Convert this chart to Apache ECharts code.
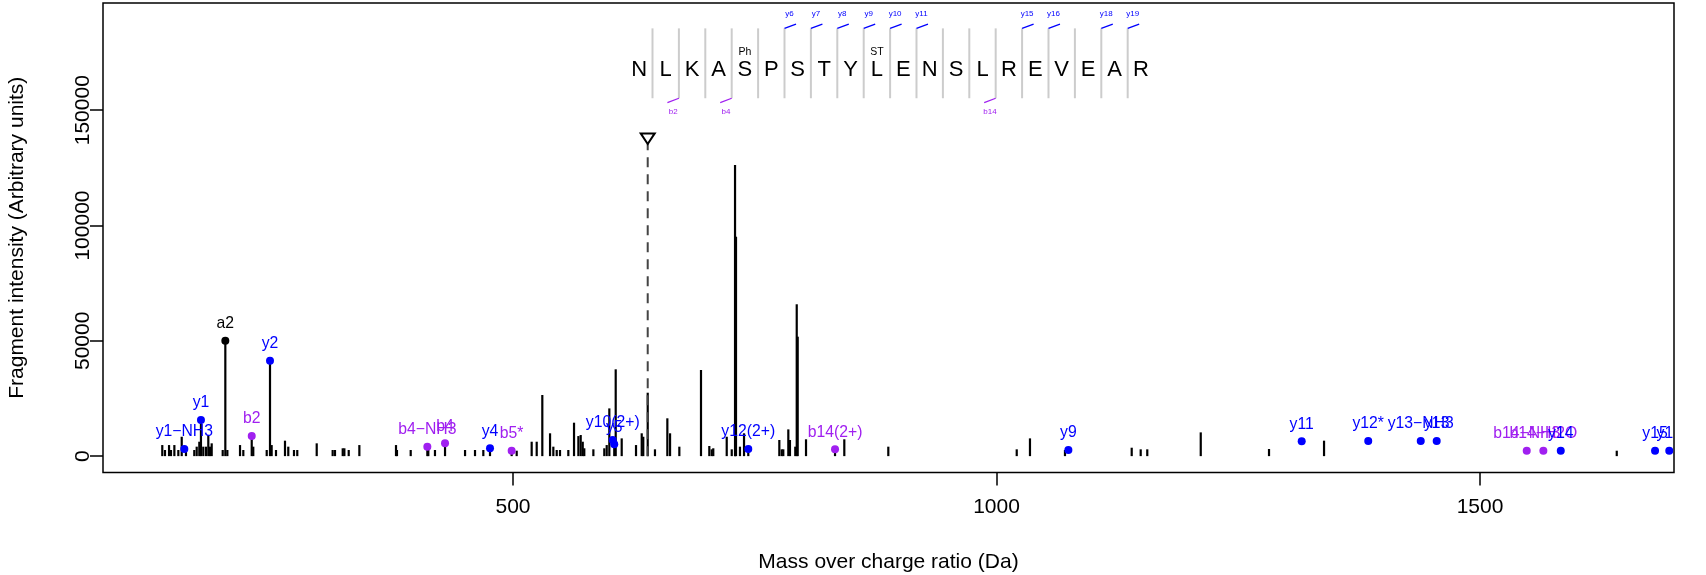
<!DOCTYPE html>
<html><head><meta charset="utf-8">
<script src="https://cdn.jsdelivr.net/npm/echarts@6/dist/echarts.min.js"></script>
<style>html,body{margin:0;padding:0;background:#fff}#c{width:1706px;height:575px}</style>
</head><body><div id="c"></div>
<script>
// ---------- data ----------
const peakMz = [137.3,140.1,144.3,146.3,149.8,153.9,157.4,161.8,170.4,172.9,175.6,177.3,179.7,182.5,184.9,186.7,188.4,199.8,202.5,204.6,217.7,221.1,229.8,231.4,245.3,248.7,250.4,254.9,264.2,267.6,273.5,276.9,297.0,313.5,315.9,323.9,325.6,330.1,341.1,379.0,380.0,394.2,411.4,412.4,419.3,429.7,450.4,460.7,469.3,476.2,498.6,503.8,519.3,524.5,530.3,538.3,541.7,545.2,548.6,557.2,563.1,567.6,570.0,572.1,573.7,583.1,594.4,596.9,599.6,604.7,606.2,612.4,627.2,633.1,634.7,639.3,646.8,659.6,662.4,672.0,694.4,703.0,705.5,707.1,721.0,726.2,729.6,730.6,734.7,738.9,743.3,775.4,777.9,779.5,784.7,786.4,791.9,793.4,794.4,803.0,833.0,842.6,888.1,1020.9,1034.6,1070.8,1139.8,1149.1,1155.9,1211.2,1281.8,1338.7,1641.4];
const peakIntensity = [4800,2650,4800,2650,4800,2650,8400,2650,2650,4100,6250,15650,4100,4100,9150,4100,5550,2650,50050,2650,4800,2650,8700,4100,2650,41400,4800,2650,6700,4100,2650,2650,5550,2650,2650,3400,3400,2650,4800,4800,2650,2650,4100,2650,2650,5550,2650,2650,2650,3400,2350,2350,6250,6250,26500,9900,4100,2650,2650,2650,14500,8700,9150,6250,3400,2950,3400,4800,20700,5100,37650,7700,4800,9900,8400,27500,2950,16400,9900,4100,37350,4400,2950,3400,8400,2950,126250,95150,4100,9900,3050,7000,2950,2950,11600,7000,4100,65850,51800,7300,2950,7300,4100,2950,7700,2650,3650,2950,2950,10300,3100,6700,2350];

const yIonLabels = ['y1\u2212NH3','y1','y2','y4','y10(2+)','y5','y12(2+)','y9','y11','y12*','y13\u2212NH3','y13','y14','y15','y16'];
const yIonMz = [160.1,177.3,248.7,476.2,603.1,604.7,743.3,1074.3,1315.6,1384.4,1438.7,1455.2,1583.5,1681.0,1695.7];
const yIonIntensity = [3100,15650,41400,3400,7000,5100,3050,2650,6400,6550,6550,6550,2350,2350,2350];

const bIonLabels = ['b2','b4\u2212NH3','b4','b5*','b14(2+)','b14\u2212NH3','b14\u2212H2O'];
const bIonMz = [229.8,411.4,429.7,498.6,833.0,1548.3,1565.5];
const bIonIntensity = [8700,4100,5550,2350,2950,2350,2350];

const otherIonLabels = ['a2'];
const otherIonMz = [202.5];
const otherIonIntensity = [50050];

const precursorMz = 639.3;
const precursorMarkerIntensity = 137650;

const sequence = ['N','L','K','A','S','P','S','T','Y','L','E','N','S','L','R','E','V','E','A','R'];
const modResidues = [5, 10];
const modLabels = ['Ph', 'ST'];
const yFragAfter = [6,7,8,9,10,11,15,16,18,19];
const bFragAfter = [2,4,14];

const xTicks = [500, 1000, 1500];
const yTicks = [0, 50000, 100000, 150000];

// ---------- layout (not data) ----------
const FONT = 'Liberation Sans, Arial, Helvetica, sans-serif';
const seqStartMz = 630.6, seqStepMz = 27.3;
const seqLetterLevel = 167450, seqLineTop = 185500, seqLineBottom = 155200, seqModLevel = 175000;

const chart = echarts.init(document.getElementById('c'), null, {renderer: 'canvas'});

function ionSeries(labels, mz, inten, color) {
  return {
    type: 'custom', z: 5, silent: true,
    data: mz.map((m, i) => [m, inten[i]]),
    encode: {x: 0, y: 1},
    renderItem: (params, api) => {
      const p = api.coord([api.value(0), api.value(1)]);
      const cs = params.coordSys;
      return {type: 'group',
        clipPath: {type: 'rect', shape: {x: cs.x, y: cs.y, width: cs.width, height: cs.height}},
        children: [
          {type: 'circle', shape: {cx: p[0], cy: p[1], r: 4}, style: {fill: color}},
          {type: 'text', x: p[0], y: p[1] - 17, style: {text: labels[params.dataIndex], fill: color,
            font: '15.75px ' + FONT, textAlign: 'center', textVerticalAlign: 'middle'}}
        ]};
    }
  };
}

const plain = v => String(v);

const option = {
  animation: false,
  grid: {left: 103, top: 3, width: 1571, height: 469.5, show: true, borderColor: '#000', borderWidth: 1.5,
    containLabel: false, outerBoundsMode: 'none'},
  xAxis: {
    type: 'value', min: 76, max: 1700.6,
    splitLine: {show: false}, axisLine: {show: false, onZero: false},
    axisTick: {show: true, inside: false, customValues: xTicks, length: 13, lineStyle: {color: '#000', width: 1.5}},
    axisLabel: {customValues: xTicks, formatter: plain, fontSize: 21, color: '#000', margin: 24, fontFamily: FONT},
    name: 'Mass over charge ratio (Da)', nameLocation: 'middle', nameGap: 79,
    nameTextStyle: {fontSize: 21, color: '#000', fontFamily: FONT}
  },
  yAxis: {
    type: 'value', min: -7100, max: 196500,
    splitLine: {show: false}, axisLine: {show: false, onZero: false},
    axisTick: {show: true, inside: false, customValues: yTicks, length: 13, lineStyle: {color: '#000', width: 1.5}},
    axisLabel: {customValues: yTicks, formatter: plain, rotate: 90, fontSize: 21, color: '#000', margin: 9, fontFamily: FONT},
    name: 'Fragment intensity (Arbitrary units)', nameLocation: 'middle', nameGap: 75,
    nameTextStyle: {fontSize: 21, color: '#000', fontFamily: FONT}
  },
  series: [
    {
      type: 'custom', z: 2, silent: true,
      data: peakMz.map((m, i) => [m, peakIntensity[i]]),
      encode: {x: 0, y: 1},
      renderItem: (params, api) => {
        const p0 = api.coord([api.value(0), 0]);
        const p1 = api.coord([api.value(0), api.value(1)]);
        return {type: 'line', shape: {x1: p0[0], y1: p0[1], x2: p1[0], y2: p1[1]},
          style: {stroke: '#000', lineWidth: 2.2}};
      }
    },
    {
      type: 'custom', z: 3, silent: true,
      data: [[precursorMz, precursorMarkerIntensity]],
      encode: {x: 0, y: 1},
      renderItem: (params, api) => {
        const c = api.coord([api.value(0), api.value(1)]);
        const b = api.coord([api.value(0), 0]);
        const hw = 7, hh = 5.3;
        return {type: 'group', children: [
          {type: 'line', shape: {x1: b[0], y1: b[1], x2: c[0], y2: c[1] + hh},
            style: {stroke: '#444', lineWidth: 2, lineDash: [10, 7]}},
          {type: 'polygon', shape: {points: [[c[0]-hw, c[1]-hh], [c[0]+hw, c[1]-hh], [c[0], c[1]+hh]]},
            style: {fill: '#fff', stroke: '#000', lineWidth: 2}}
        ]};
      }
    },
    {
      type: 'custom', z: 4, silent: true,
      data: sequence.map((s, i) => [seqStartMz + i * seqStepMz, seqLetterLevel, i]),
      encode: {x: 0, y: 1},
      renderItem: (params, api) => {
        const i = params.dataIndex;
        const n = sequence.length;
        const c = api.coord([seqStartMz + i * seqStepMz, seqLetterLevel]);
        const children = [
          {type: 'text', x: c[0], y: c[1], style: {text: sequence[i], fill: '#000',
            font: '22px ' + FONT, textAlign: 'center', textVerticalAlign: 'middle'}}
        ];
        const mi = modResidues.indexOf(i + 1);
        if (mi >= 0) {
          const m = api.coord([seqStartMz + i * seqStepMz, seqModLevel]);
          children.push({type: 'text', x: m[0], y: m[1], style: {text: modLabels[mi], fill: '#000',
            font: '10.5px ' + FONT, textAlign: 'center', textVerticalAlign: 'middle'}});
        }
        if (i < n - 1) {
          const sx = api.coord([seqStartMz + (i + 0.5) * seqStepMz, 0])[0];
          const top = api.coord([0, seqLineTop])[1];
          const bot = api.coord([0, seqLineBottom])[1];
          children.push({type: 'line', shape: {x1: sx, y1: top, x2: sx, y2: bot},
            style: {stroke: '#cccccc', lineWidth: 2}});
          if (yFragAfter.indexOf(i + 1) >= 0) {
            children.push({type: 'line', shape: {x1: sx, y1: top, x2: sx + 11.5, y2: top - 4.3},
              style: {stroke: '#0000ff', lineWidth: 1.3}});
            children.push({type: 'text', x: sx + 5, y: top - 14.3, style: {text: 'y' + (i + 1), fill: '#0000ff',
              font: '8px ' + FONT, textAlign: 'center', textVerticalAlign: 'middle'}});
          }
          if (bFragAfter.indexOf(i + 1) >= 0) {
            children.push({type: 'line', shape: {x1: sx, y1: bot, x2: sx - 11.5, y2: bot + 4.3},
              style: {stroke: '#a020f0', lineWidth: 1.3}});
            children.push({type: 'text', x: sx - 5.7, y: bot + 13.4, style: {text: 'b' + (i + 1), fill: '#a020f0',
              font: '8px ' + FONT, textAlign: 'center', textVerticalAlign: 'middle'}});
          }
        }
        return {type: 'group', children: children};
      }
    },
    ionSeries(otherIonLabels, otherIonMz, otherIonIntensity, '#000000'),
    ionSeries(bIonLabels, bIonMz, bIonIntensity, '#a020f0'),
    ionSeries(yIonLabels, yIonMz, yIonIntensity, '#0000ff')
  ]
};
chart.setOption(option);
</script></body></html>
